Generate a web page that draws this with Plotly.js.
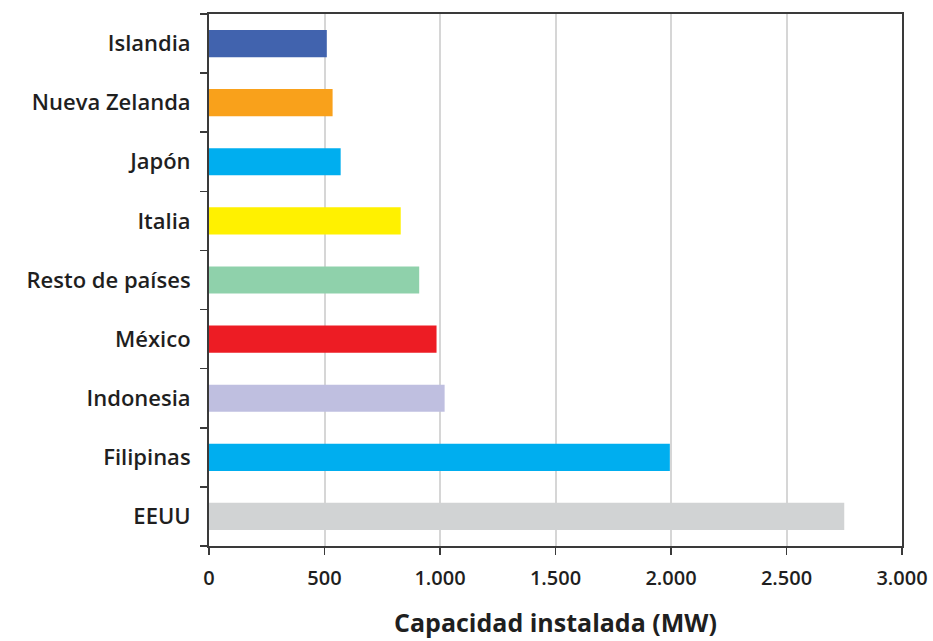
<!DOCTYPE html>
<html>
<head>
<meta charset="utf-8">
<script src="https://cdn.plot.ly/plotly-3.0.1.min.js"></script>
<style>html,body{margin:0;padding:0;background:#fff;}#chart{width:933px;height:641px;}</style>
</head>
<body>
<div id="chart"></div>
<script>
const categories = ["EEUU", "Filipinas", "Indonesia", "México", "Resto de países", "Italia", "Japón", "Nueva Zelanda", "Islandia"];
const values = [2750, 1995, 1020, 985, 910, 830, 570, 535, 510];
const colors = ["#d1d3d4", "#00aeef", "#bfbfe0", "#ed1c24", "#8fd1ab", "#fff100", "#00aeef", "#f9a11b", "#4163ae"];
const xTicks = [0, 500, 1000, 1500, 2000, 2500, 3000];

const fontFam = "'Open Sans', 'Noto Sans', sans-serif";

Plotly.newPlot("chart", [{
  type: "bar",
  orientation: "h",
  y: categories,
  x: values,
  width: 0.46,
  marker: {color: colors, line: {width: 0}},
  hoverinfo: "x+y"
}], {
  width: 933,
  height: 641,
  margin: {l: 209, r: 31, t: 14, b: 95},
  paper_bgcolor: "#ffffff",
  plot_bgcolor: "#ffffff",
  separators: ",.",
  showlegend: false,
  xaxis: {
    range: [0, 3000],
    tickvals: xTicks,
    separatethousands: true,
    showgrid: true,
    gridcolor: "#d6d6d6",
    gridwidth: 2,
    zeroline: false,
    showline: true,
    linecolor: "#3a3a3a",
    linewidth: 2,
    mirror: true,
    ticks: "outside",
    ticklen: 7,
    tickwidth: 1.5,
    tickcolor: "#3a3a3a",
    ticklabelstandoff: 6,
    tickfont: {family: fontFam, size: 20, color: "#1f1f1f", weight: 600},
    title: {text: "Capacidad instalada (MW)", font: {family: fontFam, size: 25, color: "#1f1f1f", weight: 700}, standoff: 24}
  },
  yaxis: {
    type: "category",
    range: [-0.5, 8.5],
    tickson: "boundaries",
    showgrid: false,
    showline: true,
    linecolor: "#3a3a3a",
    linewidth: 2,
    mirror: true,
    ticks: "outside",
    ticklen: 7,
    tickwidth: 1.5,
    tickcolor: "#3a3a3a",
    ticklabelstandoff: 12,
    tickfont: {family: fontFam, size: 22, color: "#1f1f1f", weight: 600}
  },
  bargap: 0.54
}, {displayModeBar: false, staticPlot: true});
</script>
</body>
</html>
